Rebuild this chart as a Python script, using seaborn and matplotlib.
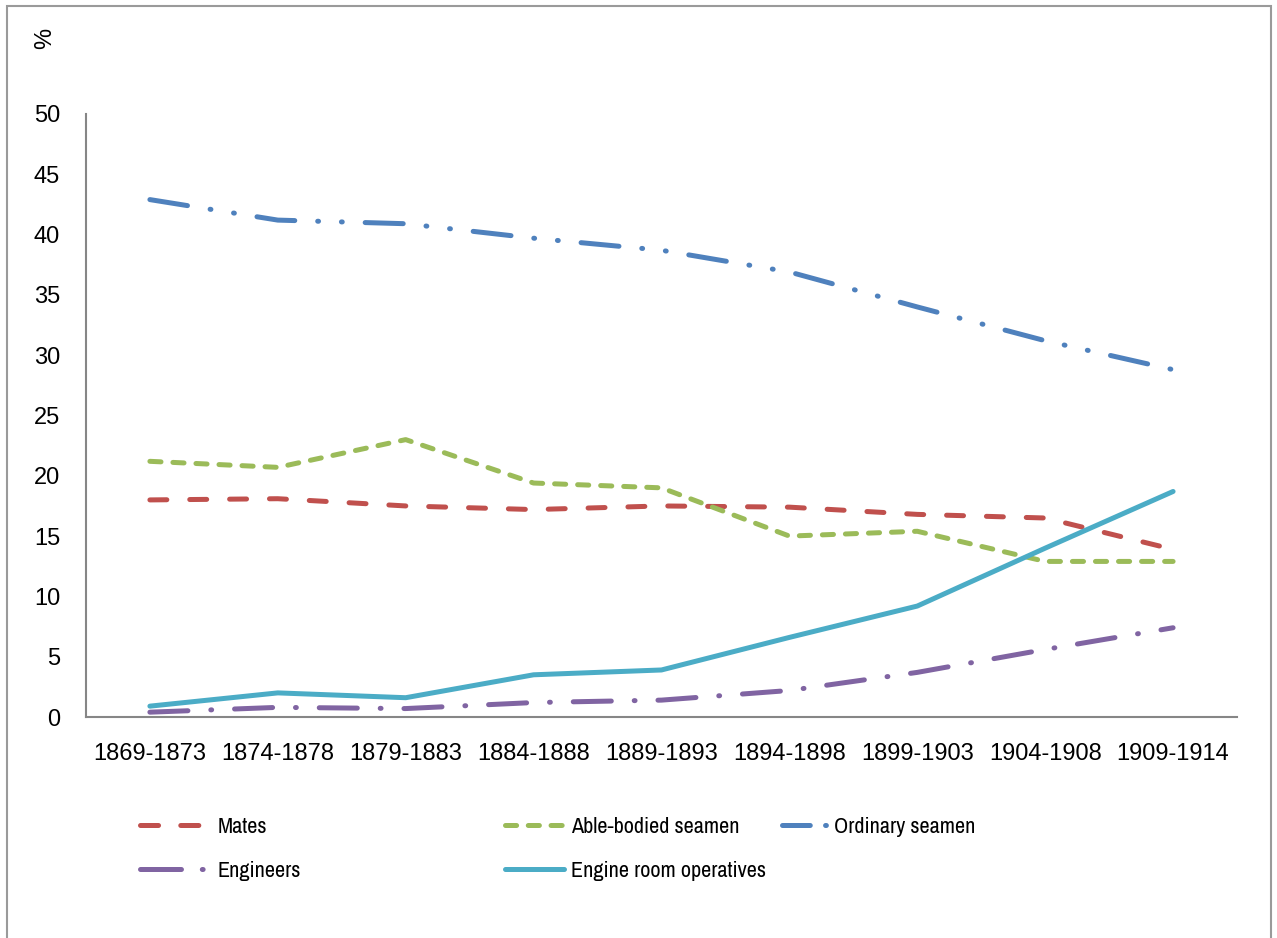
import os
import numpy as np
import pandas as pd
import matplotlib
matplotlib.use("Agg")
import matplotlib.pyplot as plt
from matplotlib import font_manager
from matplotlib.font_manager import FontProperties
from matplotlib.lines import Line2D
from matplotlib.patches import Rectangle
import seaborn as sns

# ---- data (%) ----
periods = ["1869-1873", "1874-1878", "1879-1883", "1884-1888", "1889-1893",
           "1894-1898", "1899-1903", "1904-1908", "1909-1914"]
mates = [18.0, 18.1, 17.5, 17.2, 17.5, 17.4, 16.8, 16.5, 13.9]
able_bodied = [21.2, 20.7, 23.0, 19.4, 19.0, 15.0, 15.4, 12.9, 12.9]
ordinary = [42.9, 41.2, 40.9, 39.7, 38.7, 36.9, 34.0, 31.2, 28.8]
engineers = [0.4, 0.8, 0.7, 1.2, 1.4, 2.2, 3.7, 5.6, 7.4]
engine_room = [0.9, 2.0, 1.6, 3.5, 3.9, 6.6, 9.2, 14.0, 18.7]

series = ["Mates", "Able-bodied seamen", "Ordinary seamen", "Engineers",
          "Engine room operatives"]
colors = {"Mates": "#c0504d", "Able-bodied seamen": "#9bbb59",
          "Ordinary seamen": "#4f81bd", "Engineers": "#8064a2",
          "Engine room operatives": "#4bacc6"}
# dash patterns in points (not scaled by line width)
dashes = {"Mates": (12.2, 16.5),
          "Able-bodied seamen": (8, 8.6),
          "Ordinary seamen": (27.4, 16.5, 0.6, 16.5, 0.6, 16.5),
          "Engineers": (27.4, 16.5, 0.6, 16.5),
          "Engine room operatives": ""}

rows = []
for name, vals in zip(series, [mates, able_bodied, ordinary, engineers, engine_room]):
    for i, v in enumerate(vals):
        rows.append({"x": i, "period": periods[i], "value": v, "series": name})
df = pd.DataFrame(rows)

sns.set_style("white")
plt.rcParams["font.family"] = ["Liberation Sans", "DejaVu Sans"]
plt.rcParams["text.color"] = "black"
plt.rcParams["lines.scale_dashes"] = False


# pick font files explicitly so regular / narrow faces don't get mixed up
def font_file(want, avoid=("bold", "italic", "oblique")):
    hits = []
    for f in font_manager.fontManager.ttflist:
        base = os.path.basename(f.fname).lower()
        if all(w in base for w in want) and not any(a in base for a in avoid):
            hits.append(f.fname)
    return sorted(hits)[0] if hits else None


reg_file = font_file(["liberationsans-regular"])
narrow_file = (font_file(["liberation", "narrow"])
               or font_file(["narrow"]) or font_file(["condensed"]))
if reg_file:
    tick_prop = FontProperties(fname=reg_file, size=17)
else:
    tick_prop = FontProperties(family="Liberation Sans", size=17)
if narrow_file:
    leg_prop = FontProperties(fname=narrow_file, size=16)
else:
    leg_prop = FontProperties(family="Liberation Sans", size=14)

fig = plt.figure(figsize=(12.77, 9.38), dpi=100)
ax = fig.add_axes([0.0673, 0.2356, 0.9014, 0.6429])

lw = 3.6
sns.lineplot(data=df, x="x", y="value", hue="series", style="series",
             hue_order=series, style_order=series, palette=colors,
             dashes=dashes, linewidth=lw, sort=False, legend=False, ax=ax,
             dash_capstyle="round", solid_capstyle="round",
             solid_joinstyle="round", dash_joinstyle="round")

ax.set_xlim(-0.5, len(periods) - 0.5)
ax.set_ylim(0, 50)
ax.set_yticks(np.arange(0, 51, 5))
ax.set_xticks(range(len(periods)))
ax.set_xticklabels(periods)
ax.set_xlabel("")
ax.set_ylabel("")
ax.tick_params(axis="both", length=0, colors="black")
ax.tick_params(axis="y", pad=18.5)
ax.tick_params(axis="x", pad=19)
for lbl in ax.get_xticklabels() + ax.get_yticklabels():
    lbl.set_fontproperties(tick_prop)
for side in ["top", "right"]:
    ax.spines[side].set_visible(False)
for side in ["left", "bottom"]:
    ax.spines[side].set_color("#868686")
    ax.spines[side].set_linewidth(1.5)

fig.text(45 / 1277, 1 - 38 / 938, "%", rotation=90, ha="center", va="center",
         fontproperties=tick_prop, color="black")

# legend: three separate columns, proxy lines with Excel-like legend dashes
leg_dashes = {"Mates": (13, 16),
              "Able-bodied seamen": (8, 8.4),
              "Ordinary seamen": (20, 11, 0.6, 11),
              "Engineers": (29.5, 15, 0.6, 15),
              "Engine room operatives": ""}


def proxy(name):
    ln = Line2D([], [], color=colors[name], linewidth=lw,
                dash_capstyle="round", solid_capstyle="round")
    if leg_dashes[name]:
        ln.set_dashes(leg_dashes[name])
    return ln


fs = leg_prop.get_size_in_points()
columns = [
    (["Mates", "Engineers"], 139.5, 46.0, 10.0),
    (["Able-bodied seamen", "Engine room operatives"], 505.5, 42.0, 5.0),
    (["Ordinary seamen"], 781.5, 32.5, 5.0),
]
for names, x0, hl_pt, pad_pt in columns:
    leg = fig.legend([proxy(n) for n in names], names, loc="upper left",
                     bbox_to_anchor=(x0 / 1277, 1 - 817 / 938),
                     frameon=False, borderpad=0, borderaxespad=0,
                     handlelength=hl_pt / fs, handletextpad=pad_pt / fs,
                     labelspacing=17.0 / fs, prop=leg_prop)
    for t in leg.get_texts():
        t.set_color("black")

fig.patches.append(Rectangle((7 / 1277, -0.05), (1271 - 7) / 1277,
                             0.05 + 1 - 6 / 938, transform=fig.transFigure,
                             fill=False, edgecolor="#9a9a9a", linewidth=1.5))

fig.savefig("out.png", dpi=100)
